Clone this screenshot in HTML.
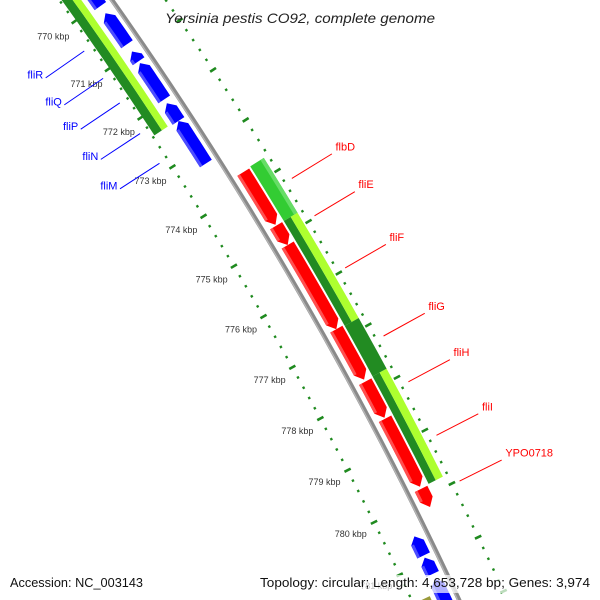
<!DOCTYPE html>
<html><head><meta charset="utf-8"><style>
html,body{margin:0;padding:0;background:#fff;width:600px;height:600px;overflow:hidden;}
svg{display:block;overflow:hidden;font-family:"Liberation Sans","DejaVu Sans",sans-serif;}
</style></head><body>
<svg id="map" width="600" height="600" viewBox="0 0 600 600" xmlns="http://www.w3.org/2000/svg">
<g id="ticks"></g>
<g id="tracks"></g>
<g id="labels"></g>
<text x="300" y="23" text-anchor="middle" font-size="14" font-style="italic" fill="#222" textLength="270" lengthAdjust="spacingAndGlyphs">Yersinia pestis CO92, complete genome</text>
<rect x="255" y="575" width="340" height="18" fill="#fff" fill-opacity="0.7"/>
<text x="10" y="587" font-size="13" fill="#111" textLength="133" lengthAdjust="spacingAndGlyphs">Accession: NC_003143</text>
<text x="260" y="587" font-size="13" fill="#111" textLength="330" lengthAdjust="spacingAndGlyphs">Topology: circular; Length: 4,653,728 bp; Genes: 3,974</text>
</svg>
<script>
// data (kbp)
const tickKbp = [770,771,772,773,774,775,776,777,778,779,780,781];
const tickLabels = ["770 kbp","771 kbp","772 kbp","773 kbp","774 kbp","775 kbp","776 kbp","777 kbp","778 kbp","779 kbp","780 kbp","781 kbp"];
const blueNames = ["", "fliR","fliQ","fliP","fliN","fliM","","",""];
const blueStarts = [769.5,770.17,770.96,771.2,772.02,772.38,780.5,780.9,781.3];
const blueEnds = [770.06,770.85,771.2,771.98,772.42,773.28,780.9,781.25,782.0];
const redNames = ["flbD","fliE","fliF","fliG","fliH","fliI","YPO0718"];
const redStarts = [773.70,774.76,775.14,776.78,777.79,778.50,779.83];
const redEnds = [774.78,775.18,776.82,777.79,778.52,779.83,780.21];
// right COG track segments: start, end, type (0 bright, 1 split, 2 dark)
const cogStarts = [773.70,774.78,776.82,777.79];
const cogEnds = [774.78,776.82,777.79,779.83];
const cogTypes = [0,1,2,1];

const NS="http://www.w3.org/2000/svg";
const cx=-3030, cy=2218, R=3846;
function theta(k){return (-35.28+0.88*(k-770))*Math.PI/180;}
function P(k,d){const t=theta(k);return [cx+(R+d)*Math.cos(t), cy+(R+d)*Math.sin(t)];}
function mk(tag,parent,attrs){const e=document.createElementNS(NS,tag);for(const a in attrs)e.setAttribute(a,attrs[a]);parent.appendChild(e);return e;}
function band(k1,k2,d1,d2,dir,tl){
  tl=tl||0.14;
  let a=k1,b=k2;
  if(dir===1)b=Math.max(k1,k2-tl);
  if(dir===-1)a=Math.min(k2,k1+tl);
  const pts=[];const n=8;
  for(let i=0;i<=n;i++)pts.push(P(a+(b-a)*i/n,d2));
  if(dir===1)pts.push(P(k2,(d1+d2)/2));
  for(let i=n;i>=0;i--)pts.push(P(a+(b-a)*i/n,d1));
  if(dir===-1)pts.push(P(k1,(d1+d2)/2));
  return "M"+pts.map(p=>p[0].toFixed(2)+","+p[1].toFixed(2)).join("L")+"Z";
}
function arcPath(k1,k2,d){const pts=[];for(let i=0;i<=40;i++)pts.push(P(k1+(k2-k1)*i/40,d));return "M"+pts.map(p=>p[0].toFixed(2)+","+p[1].toFixed(2)).join("L");}

const ticks=document.getElementById('ticks');
const tracks=document.getElementById('tracks');
const labels=document.getElementById('labels');

// tick rows
for(let k=767.6;k<=782.41;k+=0.2){
  const major=Math.abs(k-Math.round(k))<0.01;
  [-43,44].forEach(function(d){
    const h=major?3.5:1.2;
    const p1=P(k,d-h),p2=P(k,d+h);
    const ln=mk('line',ticks,{x1:p1[0],y1:p1[1],x2:p2[0],y2:p2[1],stroke:'#1f8a1f','stroke-width':major?2.6:2.4});
    
    
  });
}
tickKbp.forEach(function(k,i){
  const p=P(k,-69);
  const t=mk('text',ticks,{x:p[0],y:p[1]+3,'text-anchor':'middle','font-size':'9',fill:'#333'});
  t.textContent=tickLabels[i];
  
  
});

// backbone
let bb=mk('path',tracks,{d:arcPath(766,782.6,0),stroke:'#8a8a8a','stroke-width':4.5,fill:'none'});


let bb2=mk('path',tracks,{d:arcPath(766,782.6,-1.3),stroke:'#b5b5b5','stroke-width':1.3,fill:'none'});



// left COG track
let lg=mk('path',tracks,{d:band(766,772.38,-41,-32,0),fill:'#228b22'});


let ly=mk('path',tracks,{d:band(766,772.38,-32,-25,0),fill:'#adff2f'});


let lo=mk('path',tracks,{d:band(781.55,782.2,-41,-25,0),fill:'#9a9a3a'});



// right COG track
cogStarts.forEach(function(s,i){
  const e=cogEnds[i],t=cogTypes[i];
  if(t===0){
    let a=mk('path',tracks,{d:band(s,e,23,39,0),fill:'#33cc33'});
    
    
    let h=mk('path',tracks,{d:band(s,e,35,39,0),fill:'#66dd66'});
    
    
  }else if(t===1){
    let a=mk('path',tracks,{d:band(s,e,23,31,0),fill:'#228b22'});
    
    
    let b=mk('path',tracks,{d:band(s,e,31,39,0),fill:'#adff2f'});
    
    
  }else{
    let a=mk('path',tracks,{d:band(s,e,23,39,0),fill:'#228b22'});
    
    
  }
});

// blue genes (pointing to lower kbp)
blueStarts.forEach(function(s,i){
  const e=blueEnds[i];
  let g=mk('path',tracks,{d:band(s+0.02,e-0.02,-20,-6,-1,0.12),fill:'#0000ff'});
  
  
  let h=mk('path',tracks,{d:band(s+0.14,e-0.02,-20,-17,0),fill:'#4d4dff'});
  
  
  if(blueNames[i]){
    const m=(s+e)/2;const p1=P(m,-52),p2=P(m,-99),pt=P(m,-102);
    let l=mk('line',labels,{x1:p1[0],y1:p1[1],x2:p2[0],y2:p2[1],stroke:'#0000ff','stroke-width':1});
    
    
    let t=mk('text',labels,{x:pt[0],y:pt[1]-1,'text-anchor':'end','font-size':'11',fill:'#0000ff'});
    t.textContent=blueNames[i];
    
    
  }
});

// red genes (pointing to higher kbp)
redStarts.forEach(function(s,i){
  const e=redEnds[i];
  let g=mk('path',tracks,{d:band(s+0.02,e-0.02,7,21,1,0.14),fill:'#ff0000'});
  
  
  let h=mk('path',tracks,{d:band(s+0.02,e-0.16,7,10,0),fill:'#ff5050'});
  
  
  const m=(s+e)/2;const p1=P(m,52),p2=P(m,99),pt=P(m,102);
  let l=mk('line',labels,{x1:p1[0],y1:p1[1],x2:p2[0],y2:p2[1],stroke:'#ff0000','stroke-width':1});
  
  
  let t=mk('text',labels,{x:pt[0]+1,y:pt[1]-2,'text-anchor':'start','font-size':'11',fill:'#ff0000'});
  t.textContent=redNames[i];
  
  
});
</script>
</body></html>
